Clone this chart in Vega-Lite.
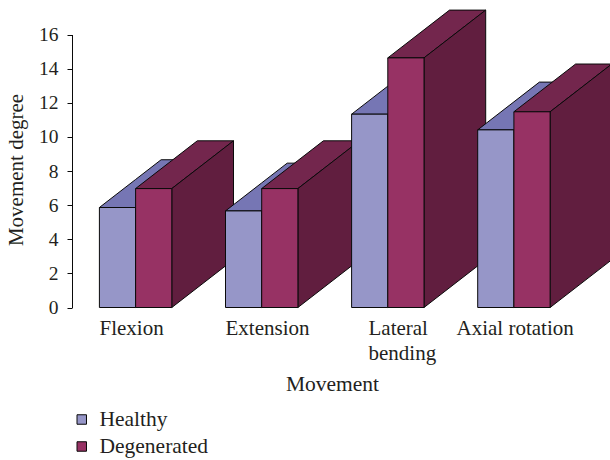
{
  "$schema": "https://vega.github.io/schema/vega-lite/v6.json",
  "width": 538,
  "height": 307.5,
  "padding": {"left": 72, "top": 0, "right": 0, "bottom": 152.5},
  "autosize": {"type": "none"},
  "background": "white",
  "config": {"view": {"stroke": null}, "font": "Liberation Serif"},
  "data": {
    "values": [
      {"movement": "Flexion", "series": "Healthy", "value": 5.86},
      {"movement": "Flexion", "series": "Degenerated", "value": 6.97},
      {"movement": "Extension", "series": "Healthy", "value": 5.66},
      {"movement": "Extension", "series": "Degenerated", "value": 6.97},
      {"movement": "Lateral bending", "series": "Healthy", "value": 11.33},
      {"movement": "Lateral bending", "series": "Degenerated", "value": 14.63},
      {"movement": "Axial rotation", "series": "Healthy", "value": 10.41},
      {"movement": "Axial rotation", "series": "Degenerated", "value": 11.47}
    ]
  },
  "transform": [
    {"calculate": "indexof(['Flexion','Extension','Lateral bending','Axial rotation'], datum.movement)", "as": "idx"},
    {"calculate": "27.4 + 126.1 * datum.idx + (datum.series === 'Healthy' ? 0 : 36.2)", "as": "L"},
    {"calculate": "['top','top','top','top','side','side','front','front']", "as": "face"},
    {"calculate": "[datum.L, datum.L+36.2, datum.L+61.7, datum.L+97.9, datum.L+36.2, datum.L+97.9, datum.L, datum.L+36.2]", "as": "vx"},
    {"calculate": "[datum.value, datum.value, datum.value+1.157, datum.value+2.8, 0, 2.8, 0, 0]", "as": "lo"},
    {"calculate": "[datum.value, datum.value+1.643, datum.value+2.8, datum.value+2.8, datum.value, datum.value+2.8, datum.value, datum.value]", "as": "hi"},
    {"flatten": ["face", "vx", "lo", "hi"]},
    {"calculate": "datum.movement + '|' + datum.series + '|' + datum.face", "as": "faceKey"},
    {"calculate": "datum.face === 'front' ? datum.series : datum.series + ' ' + datum.face", "as": "shade"}
  ],
  "mark": {"type": "area", "stroke": "#0a0a0a", "strokeWidth": 1, "strokeJoin": "miter", "interpolate": "linear", "clip": false},
  "encoding": {
    "detail": {"field": "faceKey"},
    "x": {
      "field": "vx",
      "type": "quantitative",
      "scale": {"domain": [0, 538], "nice": false, "zero": false},
      "axis": {
        "title": "Movement",
        "titleFontSize": 21.5,
        "titleFontWeight": "normal",
        "titleColor": "#231f20",
        "titleX": 260,
        "titleY": 83,
        "titleAlign": "center",
        "titleBaseline": "alphabetic",
        "domain": false,
        "ticks": false,
        "grid": false,
        "values": [27, 153, 296, 384],
        "labelExpr": "datum.value === 27 ? 'Flexion' : datum.value === 153 ? 'Extension' : datum.value === 296 ? ['Lateral', 'bending'] : 'Axial rotation'",
        "labelAlign": "left",
        "labelBaseline": "top",
        "labelFontSize": 21,
        "labelColor": "#231f20",
        "labelPadding": 10,
        "labelLineHeight": 25,
        "labelOverlap": false,
        "labelBound": false,
        "labelFlush": false
      }
    },
    "y": {
      "field": "hi",
      "type": "quantitative",
      "stack": null,
      "scale": {"domain": [0, 16], "range": [307.5, 34.5], "nice": false, "zero": false},
      "axis": {
        "title": "Movement degree",
        "titleFontSize": 21,
        "titleFontWeight": "normal",
        "titleColor": "#231f20",
        "titleX": -46,
        "titleY": 169.5,
        "grid": false,
        "values": [0, 2, 4, 6, 8, 10, 12, 14, 16],
        "domainColor": "#0a0a0a",
        "tickColor": "#0a0a0a",
        "tickSize": 5,
        "labelFontSize": 19.5,
        "labelColor": "#231f20",
        "labelPadding": 9
      }
    },
    "y2": {"field": "lo"},
    "fill": {
      "field": "shade",
      "type": "nominal",
      "scale": {
        "domain": ["Healthy", "Healthy top", "Healthy side", "Degenerated", "Degenerated top", "Degenerated side"],
        "range": ["#9696c8", "#7676b4", "#5c5c96", "#973264", "#73264d", "#611e3f"]
      },
      "legend": {
        "title": null,
        "orient": "none",
        "legendX": -1,
        "legendY": 409,
        "padding": 0,
        "values": ["Healthy", "Degenerated"],
        "symbolType": "square",
        "symbolSize": 90,
        "symbolStrokeColor": "#0a0a0a",
        "symbolStrokeWidth": 1,
        "symbolOpacity": 1,
        "labelFontSize": 21.5,
        "labelColor": "#231f20",
        "labelOffset": 7,
        "rowPadding": 5,
        "clipHeight": 21
      }
    }
  }
}
